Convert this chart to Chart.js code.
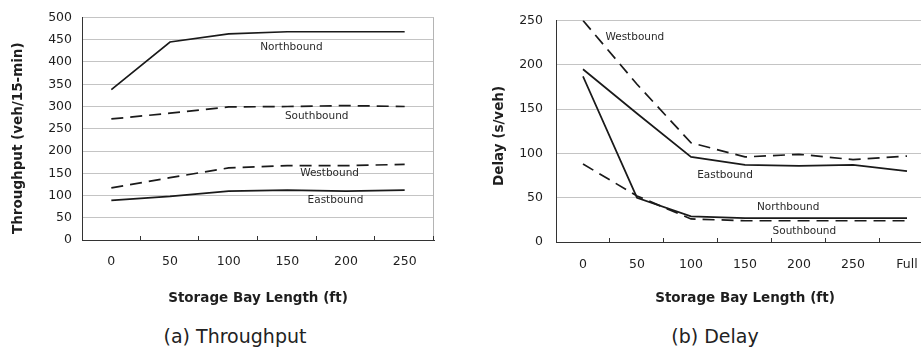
<!DOCTYPE html>
<html>
<head>
<meta charset="utf-8">
<script src="https://cdn.jsdelivr.net/npm/chart.js@4/dist/chart.umd.min.js"></script>
<style>
  html, body { margin: 0; padding: 0; background: #fff; overflow: hidden; width: 921px; height: 348px; }
  canvas { position: absolute; top: 0; }
  .cap { position: absolute; top: 325px; font: 19px 'DejaVu Sans', sans-serif; color: #222; transform: translateX(-50%); white-space: nowrap; }
</style>
</head>
<body>
<canvas id="thr" width="440" height="310" style="left:0"></canvas>
<canvas id="dly" width="454" height="310" style="left:480px"></canvas>
<div class="cap" style="left:235px">(a) Throughput</div>
<div class="cap" style="left:715px">(b) Delay</div>
<script>
// throughput chart
var thrLabels = ['0', '50', '100', '150', '200', '250'];
var thrNorth = [338, 445, 463, 468, 468, 468];
var thrSouth = [272, 285, 299, 300, 302, 300];
var thrWest = [117, 140, 162, 167, 167, 170];
var thrEast = [89, 98, 110, 112, 110, 112];
var thrTicks = [0, 50, 100, 150, 200, 250, 300, 350, 400, 450, 500];

// delay chart
var dlyLabels = ['0', '50', '100', '150', '200', '250', 'Full'];
var dlyWest = [250, 178, 112, 96, 99, 93, 97];
var dlyEast = [195, 145, 96, 87, 86, 87, 80];
var dlyNorth = [187, 50, 29, 27, 27, 27, 27];
var dlySouth = [88, 52, 26, 24, 24, 24, 24];
var dlyTicks = [0, 50, 100, 150, 200, 250];

// line labels placed in data units (category index, value)
var thrNoteText = ['Northbound', 'Southbound', 'Westbound', 'Eastbound'];
var thrNoteX = [3.07, 3.5, 3.72, 3.82];
var thrNoteY = [433, 277, 150, 89];
var dlyNoteText = ['Westbound', 'Eastbound', 'Northbound', 'Southbound'];
var dlyNoteX = [0.96, 2.63, 3.8, 4.1];
var dlyNoteY = [231, 75, 39, 12];

var ink = '#1a1a1a';
var font = "'DejaVu Sans', sans-serif";

function line(values, dashed) {
    return {
        data: values,
        borderColor: ink,
        borderWidth: 1.7,
        borderDash: dashed ? [12, 7] : [],
        pointRadius: 0,
        tension: 0,
        fill: false,
    };
}

// short tick marks pointing up into the plot, between categories
var innerTicks = {
    id: 'innerTicks',
    afterDatasetsDraw: function (chart, args, opts) {
        var x = chart.scales.x;
        var ctx = chart.ctx;
        var n = x.ticks.length;
        ctx.save();
        if (opts.rightBorder) {
            ctx.strokeStyle = '#b4b4b4';
            ctx.lineWidth = 1;
            ctx.beginPath();
            ctx.moveTo(Math.round(x.right) - 0.5, chart.chartArea.top);
            ctx.lineTo(Math.round(x.right) - 0.5, chart.chartArea.bottom);
            ctx.stroke();
        }
        ctx.strokeStyle = '#333';
        ctx.lineWidth = 1;
        for (var i = 1; i <= n; i++) {
            var px = Math.round(x.left + i * x.width / n) - 0.5;
            ctx.beginPath();
            ctx.moveTo(px, x.top);
            ctx.lineTo(px, x.top - 4);
            ctx.stroke();
        }
        ctx.restore();
    },
};

var notes = {
    id: 'notes',
    afterDatasetsDraw: function (chart, args, opts) {
        var ctx = chart.ctx;
        ctx.save();
        ctx.font = '10.5px ' + font;
        ctx.fillStyle = '#2a2a2a';
        ctx.textAlign = 'center';
        ctx.textBaseline = 'middle';
        for (var i = 0; i < opts.text.length; i++) {
            ctx.fillText(opts.text[i],
                chart.scales.x.getPixelForValue(opts.x[i]),
                chart.scales.y.getPixelForValue(opts.y[i]));
        }
        ctx.restore();
    },
};

function makeConfig(labels, sets, ticks, yTitle, yWidth, yPad, yTitlePad, xHeight, xPad, noteOpts, right, border) {
    return {
        type: 'line',
        data: { labels: labels, datasets: sets },
        options: {
            responsive: false,
            animation: false,
            layout: { padding: { top: 16, right: right, bottom: 0, left: 0 } },
            plugins: {
                legend: { display: false },
                tooltip: { enabled: false },
                notes: noteOpts,
                innerTicks: { rightBorder: border },
            },
            scales: {
                x: {
                    offset: true,
                    grid: { display: false, drawTicks: false },
                    border: { display: true, color: '#333', width: 1 },
                    ticks: { color: '#1e1e1e', font: { family: font, size: 12.5 }, padding: xPad, maxRotation: 0, autoSkip: false },
                    title: { display: true, text: 'Storage Bay Length (ft)', color: '#1e1e1e', font: { family: font, size: 13.5, weight: 'bold' }, padding: { top: 0, bottom: 3 } },
                    afterFit: function (s) { s.height = xHeight; },
                },
                y: {
                    min: ticks[0],
                    max: ticks[ticks.length - 1],
                    afterBuildTicks: function (s) { s.ticks = ticks.map(function (v) { return { value: v }; }); },
                    grid: { color: '#c4c4c4', lineWidth: 1, drawTicks: false },
                    border: { display: true, color: '#333', width: 1 },
                    ticks: { color: '#1e1e1e', font: { family: font, size: 12.5 }, padding: yPad },
                    title: { display: true, text: yTitle, color: '#1e1e1e', font: { family: font, size: 13.5, weight: 'bold' }, padding: { top: yTitlePad, bottom: 0 } },
                    afterFit: function (s) { s.width = yWidth; },
                },
            },
        },
        plugins: [innerTicks, notes],
    };
}

// trailing spaces nudge the rotated titles down a little, as in the source figure
new Chart(document.getElementById('thr'), makeConfig(
    thrLabels,
    [line(thrNorth, false), line(thrSouth, true), line(thrWest, true), line(thrEast, false)],
    thrTicks, 'Throughput (veh/15-min)    ', 82, 10, 10, 70, 14,
    { text: thrNoteText, x: thrNoteX, y: thrNoteY }, 6, true));

new Chart(document.getElementById('dly'), makeConfig(
    dlyLabels,
    [line(dlyWest, true), line(dlyEast, false), line(dlyNorth, false), line(dlySouth, true)],
    dlyTicks, 'Delay (s/veh)  ', 76, 13, 11, 68, 15,
    { text: dlyNoteText, x: dlyNoteX, y: dlyNoteY }, 0, false));
</script>
</body>
</html>
